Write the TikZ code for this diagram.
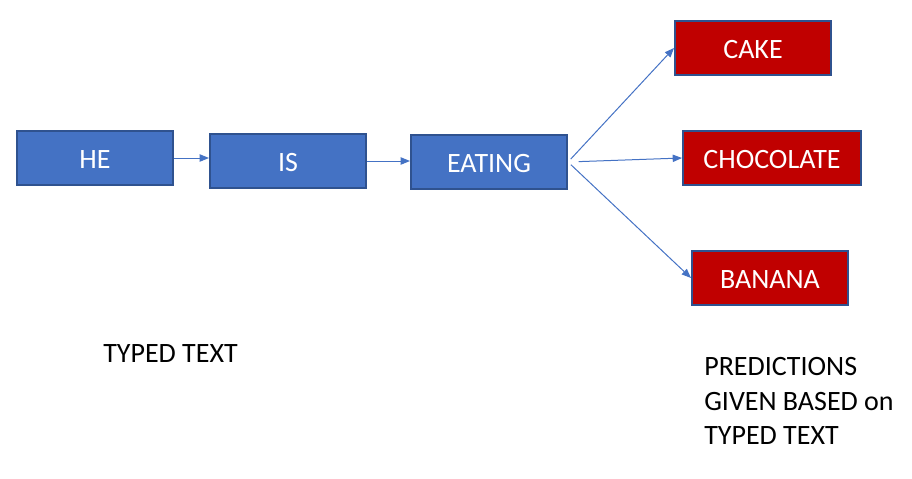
\documentclass[tikz,border=0pt]{standalone}
\usepackage{fontspec}
\setmainfont{Carlito}
\usepackage{tikz}
\usetikzlibrary{arrows.meta}
\definecolor{boxblue}{HTML}{4472C4}
\definecolor{rimblue}{HTML}{2F528F}
\definecolor{predred}{HTML}{C00000}

\begin{document}
\begin{tikzpicture}[x=0.75pt,y=-0.75pt,
	every node/.style={font=\fontsize{21}{26}\selectfont},
	word/.style={draw=rimblue,line width=1.5pt,fill=boxblue,text=white,minimum width=117pt,minimum height=40.5pt,inner sep=0pt,text height=16pt,text depth=0pt},
	pred/.style={word,fill=predred},
	link/.style={-{Triangle[length=7pt,width=5.5pt]},color=boxblue,line width=0.75pt}]
	\useasboundingbox (0,0) rectangle (912,478);

	% typed words
	\node[word] (he)     at (95,158)  {HE};
	\node[word] (is)     at (288,161) {IS};
	\node[word] (eating) at (489,162) {EATING};

	% predicted words
	\node[pred] (cake)                          at (753,48)  {CAKE};
	\node[pred, minimum width=133.5pt] (choc)   at (772,158) {CHOCOLATE};
	\node[pred] (banana)                        at (770,278) {BANANA};

	\path[link]
	(he.east)     edge (he.east -| is.west)
	(is.east)     edge (is.east -| eating.west)
	(eating.east) edge [shorten <=3pt] (cake.west)
	              edge [shorten <=8pt] (choc.west)
	              edge [shorten <=3pt] (banana.west);

	\node[anchor=west,inner sep=0pt] (typed) at (103,354) {TYPED TEXT};
	\node[anchor=west,inner sep=0pt,align=left] (predictions) at (704,401) {PREDICTIONS\\GIVEN BASED on\\TYPED TEXT};
\end{tikzpicture}
\end{document}
